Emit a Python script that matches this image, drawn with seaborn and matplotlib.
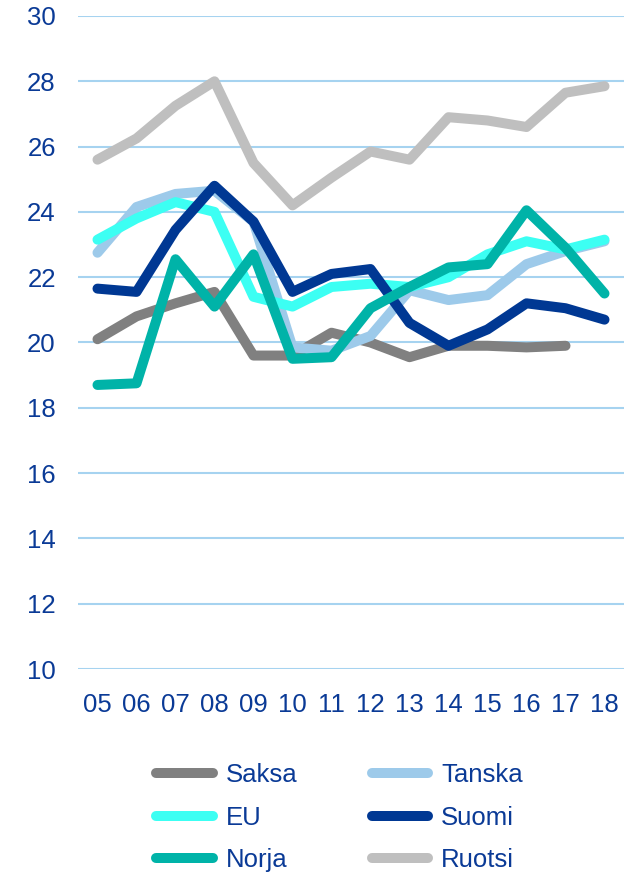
import numpy as np
import pandas as pd
import seaborn as sns
import matplotlib.pyplot as plt
from matplotlib.lines import Line2D

years = ['05', '06', '07', '08', '09', '10', '11', '12', '13', '14', '15', '16', '17', '18']

saksa = [20.1, 20.8, 21.2, 21.55, 19.6, 19.6, 20.3, 20.0, 19.55, 19.9, 19.9, 19.85, 19.9, np.nan]
tanska = [22.75, 24.15, 24.55, 24.65, 23.7, 19.85, 19.75, 20.2, 21.6, 21.3, 21.45, 22.4, 22.8, 23.1]
eu = [23.15, 23.8, 24.3, 24.0, 21.4, 21.1, 21.7, 21.8, 21.7, 22.0, 22.7, 23.1, 22.85, 23.15]
suomi = [21.65, 21.55, 23.45, 24.8, 23.7, 21.55, 22.1, 22.25, 20.6, 19.9, 20.4, 21.2, 21.05, 20.7]
norja = [18.7, 18.75, 22.55, 21.1, 22.7, 19.5, 19.55, 21.05, 21.7, 22.3, 22.4, 24.05, 22.9, 21.5]
ruotsi = [25.6, 26.25, 27.25, 28.0, 25.5, 24.2, 25.05, 25.85, 25.6, 26.9, 26.8, 26.6, 27.65, 27.85]

series = {'Saksa': saksa, 'Tanska': tanska, 'EU': eu, 'Suomi': suomi, 'Norja': norja, 'Ruotsi': ruotsi}
palette = {
    'Saksa': '#808080',
    'Tanska': '#9DCAEA',
    'EU': '#3CFFF3',
    'Suomi': '#003893',
    'Norja': '#00B3A8',
    'Ruotsi': '#BFBFBF',
}
text_color = '#0A3A96'
grid_color = '#A6D3F0'

frames = []
for name, vals in series.items():
    frames.append(pd.DataFrame({'year': years, 'value': vals, 'maa': name}))
df = pd.concat(frames, ignore_index=True).dropna()
df['pos'] = df['year'].map({y: i for i, y in enumerate(years)})

sns.set_style("white")
plt.rcParams['font.family'] = ['Liberation Sans', 'DejaVu Sans']

fig = plt.figure(figsize=(6.44, 8.72), dpi=100)
ax = fig.add_axes([78 / 644, 1 - 669 / 872, (624 - 78) / 644, (669 - 16) / 872])

lw = 7.2
fs = 18.5
sns.lineplot(
    data=df, x='pos', y='value', hue='maa', hue_order=list(series.keys()),
    palette=palette, linewidth=lw, legend=False, sort=False, ax=ax,
    solid_capstyle='round', solid_joinstyle='round'
)

ax.set_ylim(10, 30)
ax.set_xlim(-0.5, len(years) - 0.5)
ax.set_yticks(np.arange(10, 31, 2))
ax.set_xticks(range(len(years)))
ax.set_xticklabels(years)
ax.set_xlabel('')
ax.set_ylabel('')
for y in np.arange(10, 31, 2):
    ax.axhline(y, color=grid_color, linewidth=1.5, zorder=0)
for s in ax.spines.values():
    s.set_visible(False)
ax.tick_params(axis='both', length=0, labelsize=fs, labelcolor=text_color)
ax.tick_params(axis='x', pad=17)
ax.tick_params(axis='y', pad=16)

# legend: rows are Saksa/Tanska, EU/Suomi, Norja/Ruotsi
order = ['Saksa', 'EU', 'Norja', 'Tanska', 'Suomi', 'Ruotsi']
handles = [Line2D([0], [0], color=palette[n], linewidth=lw, solid_capstyle='round') for n in order]
leg = fig.legend(
    handles, order, ncol=2, loc='upper left', bbox_to_anchor=(156 / 644, 1 - 763 / 872),
    frameon=False, fontsize=fs, handlelength=2.2, handletextpad=0.5,
    columnspacing=2.9, labelspacing=0.72, borderpad=0, borderaxespad=0
)
for t in leg.get_texts():
    t.set_color(text_color)

fig.savefig('out.png', dpi=100)
